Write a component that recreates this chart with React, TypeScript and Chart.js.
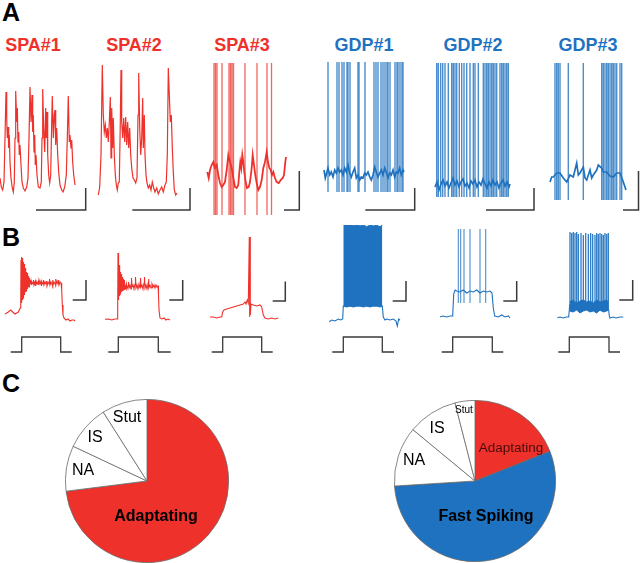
import React, { useEffect, useRef } from "react";
import { Chart, registerables } from "chart.js";
Chart.register(...registerables);

const RED = "#ef312b";
const RED_LIGHT = "rgba(239,49,43,0.75)";
const BLUE = "#1f72bf";
const BLUE_LIGHT = "rgba(31,114,191,0.8)";
const BAR = "#3a3a3a";
const FONT = "'Liberation Sans', Arial, sans-serif";

// ---------- Panel A : spontaneous activity (time a.u., Vm mV) ----------
const spa1Time = [0,1.3,2.7,4,5,6,6.7,7.3,8,8.7,9.3,10,11,12.3,13.3,14.3,15,15.7,16.7,17.3,18,18.7,19.3,20,21,22,23.3,25,26.7,28,29,30,31,32,32.7,33.3,34,34.7,35.3,36,37,38.3,40,41.3,42,42.7,43.7,44.7,45.7,46.3,47,47.7,48.7,49.7,50.7,51.7,52.3,53.3,54.3,55,55.7,56.7,57.7,58.7,60,61.7,63,64.7,66.3,67.3,68.3,69.3,70,71,71.7,72.7,73.7,75];
const spa1Vm = [-58,-67,-70,-62,-18,28,2,-18,-7,-28,-15,-42,-58,-68,-72,-62,-18,29,-2,12,-22,-12,-35,-25,-45,-62,-68,-71,-67,-58,-18,33,-2,25,-12,5,-32,-15,-45,-35,-55,-67,-68,-62,-18,31,-8,-32,12,-18,8,-35,-55,-63,-55,-2,24,-18,5,10,-25,-8,-35,-52,-65,-70,-72,-67,-55,-18,24,-22,-15,-28,-20,-42,-55,-65];

const spa2Time = [3.3,4.7,6,7.3,8.3,9.3,10.3,11.3,12.3,13.3,14.3,15.3,16,16.7,17.7,18.3,19.3,20.3,21.3,22.3,23.3,24.3,25.3,26,26.7,27.7,28.7,29.7,30.7,31.7,32.7,33.7,34.7,35.7,36.7,38,39.3,40.7,42,43,43.7,44.7,45.7,46.7,47.7,48.3,49.3,50,51,52,53.3,54.7,56,57.3,58.7,60,61.7,63.3,65,66.7,68.3,70,71.3,72.3,73.3,74.3,75.3,76.3,77.3,78.3,79.3,80.7,82];
const spa2Vm = [-75,-67,-35,55,5,-12,-5,-18,-8,-22,-2,23,-38,12,-28,2,-35,-55,-65,-70,-63,-62,-2,50,-2,-18,2,-22,3,-25,-2,-28,-8,-35,-48,-58,-60,-63,-58,5,47,-8,-35,-18,22,-28,5,-35,-55,-63,-68,-65,-70,-62,-68,-72,-68,-74,-70,-67,-72,-65,-62,-35,52,25,-2,5,-28,-52,-70,-75,-73];

const spa3Time = [4.3,5.7,7,8.7,10.3,12,13.7,15.3,17,18.7,20.3,22,23.7,25.3,27,28.7,30.3,32,33.7,35.3,36.3,37.3,38.3,39.3,40.3,41.3,42.7,44,45.7,47,48.7,49.7,51,52.3,53.7,55.3,57,58.7,60.3,62,63.7,65,66.3,67.7,69,70.3,72,73.7,75.7,77.7,79.7,81,82.3,83];
const spa3Vm = [-52,-58,-50,-45,-42,-48,-45,-55,-63,-67,-65,-62,-50,-35,-42,-48,-58,-67,-68,-65,-52,-42,-48,-35,-42,-52,-62,-68,-67,-62,-48,-35,-45,-55,-63,-70,-67,-60,-48,-42,-32,-42,-48,-50,-55,-52,-58,-62,-63,-60,-58,-55,-42,-37];
const spa3SpikeTimes = [11,12.5,14,19,26,27.5,29,30.5,42,54,64,68.5];

const gdp1Time = [4,5.3,6.7,8,9.7,11.3,13,14.7,16.3,18,19.7,21.3,23,24.7,26.3,28,29.7,31.3,33,34.7,36.3,38,39.7,41.3,43,44.7,46.3,48,49.7,51.3,53,54.7,56.3,58,59.7,61.3,63,64.7,66.3,68,69.7,71.3,73,74.7,76.3,78,79.7,81.3,83,84];
const gdp1Vm = [-50,-58,-53,-48,-55,-52,-57,-50,-53,-48,-52,-50,-55,-48,-52,-45,-53,-57,-52,-48,-58,-55,-60,-57,-58,-53,-55,-52,-57,-60,-55,-47,-52,-57,-53,-50,-55,-48,-52,-58,-53,-55,-50,-57,-52,-53,-48,-55,-50,-52];
const gdp1SpikeTimes = [8,17,19,22,24,27,28,30,38,39,45,54,56,58,61,63,65,67,68,70,75,77,78,80,82,83];

const gdp2Time = [5,7,9,11,13,15,17,19,21,23,25,27,29,31,33,35,37,39,41,43,45,47,49,51,53,55,57,59,61,63,65,67,69,71,73,75,77,79,80];
const gdp2Vm = [-67,-62,-70,-64,-60,-66,-62,-68,-63,-58,-65,-61,-67,-62,-59,-66,-63,-68,-61,-64,-60,-67,-62,-65,-59,-64,-68,-62,-66,-60,-65,-62,-68,-63,-60,-66,-62,-67,-64];
const gdp2SpikeTimes = [6.7,8.3,10.7,12.7,15,18.3,21.7,23.3,25,26.7,29.3,31.7,34,36.7,40,43.3,45,48.3,53.3,55,56.7,58.3,60,61.7,63.3,65,66.7,70,71.7,73.3,75,76.7,78.3];

const gdp3Time = [5,6.7,8.3,11.7,15,18.3,21.7,25,28.3,30,31.7,33.3,35,38.3,40,41.7,45,46.7,48.3,51.7,53.3,56.7,58.3,61.7,65,68.3,71.7,75,78.3,81];
const gdp3Vm = [-62,-57,-57,-53,-53,-58,-62,-55,-57,-50,-43,-55,-53,-47,-58,-60,-50,-58,-55,-50,-45,-48,-52,-52,-56,-57,-53,-53,-62,-70];
const gdp3SpikeTimes = [10,11.7,13.3,15,23.3,38.3,56.7,58.3,60,61.7,63.3,65,66.7,68.3,70,71.7,75,76.7];

// ---------- Panel B : step responses ----------
const spa1BTime = [5,8.3,10.7,12.7,15,18.3,20.3,
  20.7,21,21.3,21.6,21.9,22.2,22.5,22.8,23.1,23.4,23.7,24,24.3,24.6,24.9,25.2,25.5,25.8,26.1,26.4,26.7,27,27.3,27.6,27.9,28.2,28.5,28.8,29.1,29.4,29.7,30,
  30.5,31,31.5,32,33,33.5,34,35,35.5,36,37,38,38.5,39,40,41,41.5,42,43,43.5,44,45,46,46.5,47,48,49,49.5,50,51,52,52.5,53,54,55,55.5,56,57,58,58.5,59,60,61,
  61.7,62.3,63,64,66,68,70,72,74,75];
const spa1BVm = [-54,-52,-50,-52,-54,-52,-48,
  -45,0,-43,3,-41,2,-40,0,-38,-2,-37,-4,-35,-6,-34,-8,-32,-10,-31,-12,-30,-13,-29,-15,-28,-16,-27,-17,-27,-18,-26,-20,
  -24,-21,-25,-22,-24,-20,-25,-22,-26,-21,-24,-22,-25,-20,-24,-21,-26,-22,-24,-20,-25,-22,-24,-21,-26,-22,-24,-19,-25,-22,-24,-20,-26,-22,-24,-19,-25,-21,-24,-20,-25,-22,-23,
  -30,-45,-55,-58,-60,-59,-61,-60,-60,-61];

const spa2BTime = [5,8.3,11.7,15,17.3,
  17.7,18,18.3,18.6,18.9,19.2,19.5,19.8,20.1,20.4,20.7,21,21.3,21.6,21.9,22.2,22.5,22.8,23.1,23.4,23.7,24,24.3,24.6,25,
  25.5,26,26.5,27,28,28.5,29,30,31,31.5,32,33,34,35,35.5,36,37,38,39,40,40.5,41,42,43,44,44.5,45,46,47,48,48.5,49,50,51,52,53,54,55,56,57,58,
  58.5,59,60,62,64,66,68,70,70.7];
const spa2BVm = [-59.3,-59,-60,-59,-59,
  -45,7,-40,2,-38,-5,-36,-8,-34,-12,-33,-14,-32,-15,-31,-17,-31,-18,-30,-19,-30,-20,-30,-21,-29,
  -25,-28,-24,-29,-26,-22,-28,-25,-29,-18,-27,-25,-29,-24,-17,-28,-25,-29,-24,-28,-18,-27,-25,-29,-23,-17,-28,-25,-29,-24,-19,-28,-25,-28,-24,-27,-25,-28,-25,-27,-26,
  -35,-50,-58,-59,-58,-60,-59,-60,-60];

const spa3BTime = [5,8.3,11.7,15,16.7,17.7,19,21.7,25,28.3,31.7,35,38.3,40,41,42.3,43.3,44.3,44.7,45,45.3,46,48.3,51.7,55,56.7,58.3,60,63.3,66.7,70,73.3];
const spa3BVm = [-57,-57,-58,-57,-57,-52,-50,-49,-48,-47,-46,-45,-44,-42,-44,-40,-43,23,-57,23,-55,-44,-45,-46,-45,-47,-55,-58,-59,-58,-59,-58];

const gdp1BTime = [4.3,6.7,10,13.3,15.7,17.7,18.3,57.3,58.3,60,61.7,65,68.3,71,72.3,73.7,75];
const gdp1BVm = [-61.7,-60,-61,-59,-60,-59,-46,-46,-57,-60,-59,-60,-59,-61,-66,-59,-60];
const gdp1BFiringTime = [18.3,21.7,25,28.3,31.7,35,38.3,41.7,45,48.3,51.7,55,57.3];
const gdp1BFiringPeak = [35.7,35,36.7,34.3,35.7,34,35,33.3,35,34,34.7,33.3,35];
const gdp1BFiringTrough = [-46,-47,-46,-47,-46,-46,-47,-46,-47,-46,-46,-47,-46];

const gdp2BTime = [5,8.3,11.7,15,17.7,18.7,20,21.7,25,28.3,31.7,35,38.3,41.7,45,48.3,51.7,55,57,58.3,59.7,63.3,66.7,70,73.3,75];
const gdp2BVm = [-56.7,-56,-57,-56,-56,-34,-30,-31,-32,-30,-33,-31,-32,-30,-33,-31,-32,-31,-33,-48,-56,-57,-55,-57,-56,-58];
const gdp2BSpikeTimes = [23.3,25.7,29,35,45,50.7];

const gdp3BTime = [7.3,10,13.3,16.7,18.7,19.7,58.7,59.3,60,63,66,70,73.3];
const gdp3BVm = [-57.7,-57,-58,-57,-57,-45,-50,-56,-58,-57,-58,-57,-57];
const gdp3BSpikeTimes = [20,21.7,23.3,25,26.7,28.3,31,33.3,35.7,38.3,40.7,42.7,45,46.7,48.3,50,51.7,53.3,55,56.7,58.3];
const gdp3BSpikePeak = [28,27,28,27,28,26,27,25,27,26,27,26,25,27,26,27,26,25,27,26,27];
const gdp3BBaseTime = [19.7,23,26.7,30,33.3,36.7,40,43.3,46.7,50,53.3,56.7,58.5];
const gdp3BBaseUpper = [-42,-40,-43,-41,-40,-42,-41,-43,-40,-42,-41,-40,-43];
const gdp3BBaseLower = [-51,-52,-50,-53,-51,-50,-52,-51,-53,-50,-52,-51,-50];

// current step: [start, onset, offset, end] and amplitude (pA)
const stepSpa1 = [10.7, 21.7, 60.7, 71.7];
const stepSpa2 = [8.3, 18.3, 58.3, 70.7];
const stepSpa3 = [6.7, 17.7, 56.7, 67.7];
const stepGdp1 = [7.3, 18.3, 57.3, 69];
const stepGdp2 = [6.7, 17.7, 57.3, 68.3];
const stepGdp3 = [8.3, 19.3, 59, 70];
const stepAmp = 100;

// ---------- Panel C : proportions ----------
const pieSpaLabels = ["Adaptating", "NA", "IS", "Stut"];
const pieSpaValues = [73, 9, 9, 9];
const pieGdpLabels = ["Adaptating", "Fast Spiking", "NA", "IS", "Stut"];
const pieGdpValues = [19, 55, 12, 10, 4];

// ---------- helpers ----------
const zip = (t: number[], v: number[]) => t.map((x, i) => ({ x, y: v[i] }));
const line = (t: number[], v: number[], color: string, width = 1, extra: any = {}) => ({
  data: zip(t, v), borderColor: color, borderWidth: width, showLine: true, pointRadius: 0, fill: false, clip: false, ...extra,
});
const spikes = (times: number[], top: number | number[], bottom: number, color: string, width = 1) => {
  const pts: any[] = [];
  times.forEach((t, i) => {
    const tp = Array.isArray(top) ? top[i] : top;
    pts.push({ x: t, y: bottom }, { x: t, y: tp }, { x: t, y: null });
  });
  return { data: pts, borderColor: color, borderWidth: width, showLine: true, pointRadius: 0, spanGaps: false, clip: false };
};
const scaleBar = (x: number, y: number, len: number, h: number) => ({
  data: [{ x: x - len, y }, { x, y }, { x, y: y + h }], borderColor: BAR, borderWidth: 1.5, showLine: true, pointRadius: 0, clip: false,
});
const step = (s: number[]) => ({
  data: [{ x: s[0], y: 0 }, { x: s[1], y: 0 }, { x: s[1], y: stepAmp }, { x: s[2], y: stepAmp }, { x: s[2], y: 0 }, { x: s[3], y: 0 }],
  borderColor: BAR, borderWidth: 1.3, showLine: true, pointRadius: 0, clip: false, yAxisID: "stim",
});
const band = (t: number[], up: number[], lo: number[], color: string) => [
  { data: zip(t, up), borderColor: color, borderWidth: 1, backgroundColor: color, showLine: true, pointRadius: 0, fill: "+1", clip: false },
  { data: zip(t, lo), borderColor: color, borderWidth: 1, showLine: true, pointRadius: 0, fill: false, clip: false },
];

type Cell = { left: number; top: number; width: number; height: number; yMin: number; yMax: number; stim?: boolean; build: () => any[] };

const A_TOP = 60, A_H = 155, A_MIN = -95, A_MAX = 60;
const B_TOP = 225, B_H = 135, B_MIN = -100, B_MAX = 35;

const cells: Cell[] = [
  { left: 0, top: A_TOP, width: 92, height: A_H, yMin: A_MIN, yMax: A_MAX, build: () => [line(spa1Time, spa1Vm, RED, 1.2), scaleBar(85.7, -90, 49.7, 22)] },
  { left: 95, top: A_TOP, width: 100, height: A_H, yMin: A_MIN, yMax: A_MAX, build: () => [line(spa2Time, spa2Vm, RED, 1.2), scaleBar(95, -90, 57.7, 22)] },
  { left: 203, top: A_TOP, width: 102, height: A_H, yMin: A_MIN, yMax: A_MAX, build: () => [spikes(spa3SpikeTimes, 57, -95, RED_LIGHT, 1.3), line(spa3Time, spa3Vm, RED, 1.8), scaleBar(96.3, -90, 15.3, 39)] },
  { left: 320, top: A_TOP, width: 100, height: A_H, yMin: A_MIN, yMax: A_MAX, build: () => [spikes(gdp1SpikeTimes, 58, -72, BLUE_LIGHT, 1.4), line(gdp1Time, gdp1Vm, BLUE, 1.7), scaleBar(94.7, -90, 49.4, 22)] },
  { left: 430, top: A_TOP, width: 110, height: A_H, yMin: A_MIN, yMax: A_MAX, build: () => [spikes(gdp2SpikeTimes, 57, -77, BLUE_LIGHT, 1.4), line(gdp2Time, gdp2Vm, BLUE, 1.7), scaleBar(104, -90, 48, 22)] },
  { left: 545, top: A_TOP, width: 95, height: A_H, yMin: A_MIN, yMax: A_MAX, build: () => [spikes(gdp3SpikeTimes, 57, -80, BLUE_LIGHT, 1.4), line(gdp3Time, gdp3Vm, BLUE, 1.7), scaleBar(93.5, -90, 15.5, 39)] },

  { left: 0, top: B_TOP, width: 95, height: B_H, yMin: B_MIN, yMax: B_MAX, stim: true, build: () => [line(spa1BTime, spa1BVm, RED, 1.1), scaleBar(86, -40, 13.3, 20), step(stepSpa1)] },
  { left: 100, top: B_TOP, width: 90, height: B_H, yMin: B_MIN, yMax: B_MAX, stim: true, build: () => [line(spa2BTime, spa2BVm, RED, 1.1), scaleBar(82.7, -40, 13.4, 20), step(stepSpa2)] },
  { left: 205, top: B_TOP, width: 90, height: B_H, yMin: B_MIN, yMax: B_MAX, stim: true, build: () => [line(spa3BTime, spa3BVm, RED, 1.1), scaleBar(80.3, -41, 12.6, 19.5), step(stepSpa3)] },
  { left: 325, top: B_TOP, width: 90, height: B_H, yMin: B_MIN, yMax: B_MAX, stim: true, build: () => [...band(gdp1BFiringTime, gdp1BFiringPeak, gdp1BFiringTrough, BLUE), line(gdp1BTime, gdp1BVm, BLUE, 1.1), scaleBar(81, -41, 13.3, 20), step(stepGdp1)] },
  { left: 435, top: B_TOP, width: 90, height: B_H, yMin: B_MIN, yMax: B_MAX, stim: true, build: () => [spikes(gdp2BSpikeTimes, 31, -43, BLUE_LIGHT, 1.1), line(gdp2BTime, gdp2BVm, BLUE, 1.1), scaleBar(81.7, -41, 13.4, 20), step(stepGdp2)] },
  { left: 550, top: B_TOP, width: 90, height: B_H, yMin: B_MIN, yMax: B_MAX, stim: true, build: () => [spikes(gdp3BSpikeTimes, gdp3BSpikePeak, -50, BLUE, 1.2), ...band(gdp3BBaseTime, gdp3BBaseUpper, gdp3BBaseLower, BLUE), line(gdp3BTime, gdp3BVm, BLUE, 1.1), scaleBar(82.7, -40, 13.4, 20), step(stepGdp3)] },
];

// stimulus axis: 0 pA sits at page y=352, 100 pA at page y=337
const STIM_PX_PER_UNIT = 15 / stepAmp;
const STIM_MAX = (352 - B_TOP) / STIM_PX_PER_UNIT;
const STIM_MIN = -(B_TOP + B_H - 352) / STIM_PX_PER_UNIT;

function TraceCell({ cell }: { cell: Cell }) {
  const ref = useRef<HTMLCanvasElement>(null);
  useEffect(() => {
    const scales: any = {
      x: { type: "linear", display: false, min: 0, max: cell.width },
      y: { type: "linear", display: false, min: cell.yMin, max: cell.yMax },
    };
    if (cell.stim) scales.stim = { type: "linear", display: false, min: STIM_MIN, max: STIM_MAX, position: "right" };
    const chart = new Chart(ref.current as HTMLCanvasElement, {
      type: "scatter",
      data: { datasets: cell.build() },
      options: {
        animation: false, responsive: false, devicePixelRatio: 1, events: [],
        layout: { padding: 0 },
        plugins: { legend: { display: false }, tooltip: { enabled: false } },
        elements: { point: { radius: 0 }, line: { tension: 0 } },
        scales,
      } as any,
    });
    return () => chart.destroy();
  }, []);
  return <canvas ref={ref} width={cell.width} height={cell.height}
    style={{ position: "absolute", left: cell.left, top: cell.top, width: cell.width, height: cell.height }} />;
}

function PieCell({ left, top, size, labels, values, colors }: { left: number; top: number; size: number; labels: string[]; values: number[]; colors: string[] }) {
  const ref = useRef<HTMLCanvasElement>(null);
  useEffect(() => {
    const chart = new Chart(ref.current as HTMLCanvasElement, {
      type: "pie",
      data: { labels, datasets: [{ data: values, backgroundColor: colors, borderColor: "#6a6a6a", borderWidth: 0.8 }] },
      options: {
        animation: false, responsive: false, devicePixelRatio: 1, events: [],
        layout: { padding: 0 },
        plugins: { legend: { display: false }, tooltip: { enabled: false } },
      } as any,
    });
    return () => chart.destroy();
  }, []);
  return <canvas ref={ref} width={size} height={size} style={{ position: "absolute", left, top, width: size, height: size }} />;
}

function Label({ x, y, text, size, color = "#000", bold = false }: { x: number; y: number; text: string; size: number; color?: string; bold?: boolean }) {
  return (
    <div style={{ position: "absolute", left: x, top: y, transform: "translate(-50%,-50%)", fontFamily: FONT, fontSize: size,
      fontWeight: bold ? 700 : 400, color, lineHeight: 1, whiteSpace: "nowrap" }}>{text}</div>
  );
}

export default function App() {
  return (
    <div style={{ position: "fixed", left: 0, top: 0, width: 640, height: 563, overflow: "hidden", background: "#fff" }}>
      <Label x={11} y={12} text="A" size={25} bold />
      <Label x={11} y={237} text="B" size={25} bold />
      <Label x={11} y={383} text="C" size={25} bold />

      <Label x={33} y={45} text="SPA#1" size={18} bold color={RED} />
      <Label x={134} y={45} text="SPA#2" size={18} bold color={RED} />
      <Label x={242} y={45} text="SPA#3" size={18} bold color={RED} />
      <Label x={364} y={45} text="GDP#1" size={18} bold color={BLUE} />
      <Label x={473} y={45} text="GDP#2" size={18} bold color={BLUE} />
      <Label x={588} y={45} text="GDP#3" size={18} bold color={BLUE} />

      {cells.map((c, i) => <TraceCell key={i} cell={c} />)}

      <PieCell left={65} top={399} size={164} labels={pieSpaLabels} values={pieSpaValues} colors={[RED, "#fff", "#fff", "#fff"]} />
      <PieCell left={394} top={400} size={162} labels={pieGdpLabels} values={pieGdpValues} colors={[RED, BLUE, "#fff", "#fff", "#fff"]} />

      <Label x={156} y={516} text="Adaptating" size={16} bold />
      <Label x={83} y={470} text="NA" size={16} />
      <Label x={95} y={437} text="IS" size={16} />
      <Label x={127} y={417} text="Stut" size={16} />

      <Label x={511} y={448} text="Adaptating" size={13.5} color="#4a0c0c" />
      <Label x={486} y={516} text="Fast Spiking" size={16} bold />
      <Label x={414} y={460} text="NA" size={16} />
      <Label x={437} y={428} text="IS" size={16} />
      <Label x={464} y={410} text="Stut" size={10} />
    </div>
  );
}
